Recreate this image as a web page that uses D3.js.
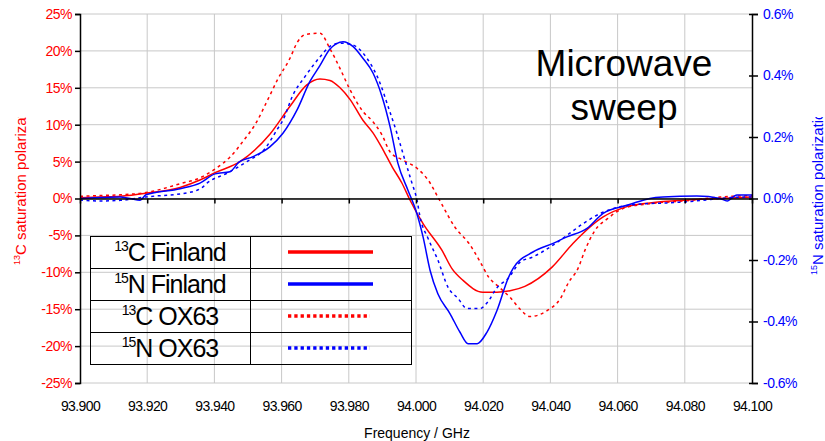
<!DOCTYPE html>
<html>
<head>
<meta charset="utf-8">
<script src="https://cdn.jsdelivr.net/npm/d3@7"></script>
<style>
  html, body { margin: 0; padding: 0; background: #fff; }
  svg { display: block; font-family: "Liberation Sans", Arial, sans-serif; }
</style>
</head>
<body>
<svg id="chart" width="825" height="441"></svg>
<script>
// ---------- DATA ----------
// Frequencies in GHz, polarization in %
const c13FinlandFreq = [93.900, 93.906, 93.912, 93.9196, 93.9298, 93.9357, 93.9402, 93.9476, 93.9565, 93.9625, 93.9675, 93.9714, 93.9744, 93.9774, 93.9804, 93.9842, 93.9872, 93.9902, 93.9929, 93.9958, 93.9982, 94.0021, 94.0077, 94.0107, 94.0140, 94.0199, 94.0241, 94.0280, 94.0324, 94.0405, 94.0467, 94.0557, 94.0628, 94.0696, 94.0807, 94.0905, 94.100];
const c13FinlandPol  = [0.1, 0.2, 0.3, 0.7, 1.5, 2.5, 3.5, 5.0, 8.7, 12.5, 15.4, 16.2, 16.0, 15.0, 13.4, 10.6, 8.9, 6.6, 4.3, 2.1, -0.2, -3.4, -7.0, -9.5, -11.1, -12.7, -12.7, -12.5, -11.9, -9.3, -6.1, -2.5, -1.1, -0.6, -0.2, 0.0, 0.2];

const c13OX63Freq = [93.900, 93.906, 93.912, 93.9196, 93.9298, 93.9357, 93.9402, 93.9446, 93.9491, 93.9521, 93.9560, 93.9589, 93.9625, 93.9646, 93.9670, 93.9714, 93.9744, 93.9774, 93.9804, 93.9842, 93.9872, 93.9899, 93.9923, 93.9961, 94.0003, 94.0042, 94.0065, 94.0077, 94.0116, 94.0158, 94.0190, 94.0217, 94.0247, 94.0280, 94.0310, 94.0339, 94.0390, 94.0429, 94.0455, 94.0482, 94.0503, 94.0533, 94.0571, 94.0619, 94.0696, 94.0807, 94.0905, 94.100];
const c13OX63Pol  = [0.3, 0.4, 0.5, 0.8, 2.0, 2.8, 4.0, 5.6, 8.1, 10.0, 13.5, 16.2, 19.0, 21.1, 22.2, 22.4, 20.3, 17.6, 14.7, 11.8, 10.4, 8.6, 6.3, 5.2, 4.1, 2.1, 0.2, -0.8, -3.9, -6.1, -8.5, -10.7, -12.0, -13.4, -15.0, -16.0, -15.2, -13.6, -11.3, -9.5, -7.0, -4.3, -2.7, -1.3, -0.7, -0.3, 0.2, 0.4];

const n15FinlandFreq = [93.900, 93.906, 93.9119, 93.9149, 93.9179, 93.9196, 93.9298, 93.9357, 93.9402, 93.9446, 93.9473, 93.9515, 93.9565, 93.9604, 93.9646, 93.9684, 93.9714, 93.9744, 93.9783, 93.9813, 93.9842, 93.9872, 93.9899, 93.9923, 93.9946, 93.9976, 94.0000, 94.0021, 94.0042, 94.0065, 94.0101, 94.0131, 94.0155, 94.0182, 94.0211, 94.0241, 94.0274, 94.0289, 94.0348, 94.0408, 94.0449, 94.0509, 94.0557, 94.0628, 94.0676, 94.0696, 94.0735, 94.0836, 94.0905, 94.0926, 94.0955, 94.100];
const n15FinlandPol  = [0.0, 0.003, 0.005, 0.0, -0.006, 0.012, 0.032, 0.05, 0.08, 0.087, 0.118, 0.136, 0.168, 0.212, 0.288, 0.38, 0.432, 0.486, 0.51, 0.494, 0.456, 0.408, 0.331, 0.233, 0.115, 0.027, -0.04, -0.125, -0.234, -0.31, -0.374, -0.435, -0.472, -0.472, -0.435, -0.364, -0.26, -0.227, -0.174, -0.146, -0.125, -0.097, -0.048, -0.022, -0.006, 0.0, 0.005, 0.008, 0.0, -0.008, 0.011, 0.011];

const n15OX63Freq = [93.900, 93.906, 93.912, 93.9196, 93.9327, 93.9366, 93.9378, 93.9437, 93.9497, 93.9551, 93.9586, 93.9604, 93.9634, 93.9670, 93.9714, 93.9744, 93.9774, 93.9810, 93.9854, 93.9893, 93.9917, 93.9943, 93.9967, 93.9988, 94.0003, 94.0012, 94.0036, 94.0065, 94.0095, 94.0125, 94.0152, 94.0190, 94.0211, 94.0241, 94.0274, 94.0310, 94.0348, 94.0399, 94.0449, 94.0497, 94.0548, 94.0607, 94.0667, 94.0756, 94.0854, 94.0935, 94.100];
const n15OX63Pol  = [-0.005, -0.008, -0.006, 0.005, 0.02, 0.038, 0.05, 0.082, 0.12, 0.163, 0.223, 0.255, 0.337, 0.397, 0.46, 0.495, 0.505, 0.5, 0.456, 0.375, 0.299, 0.213, 0.125, 0.05, -0.005, -0.06, -0.13, -0.2, -0.288, -0.325, -0.358, -0.358, -0.34, -0.29, -0.26, -0.207, -0.19, -0.158, -0.12, -0.082, -0.049, -0.027, -0.018, -0.014, -0.006, 0.003, 0.005];

const xTicks = [93.900, 93.920, 93.940, 93.960, 93.980, 94.000, 94.020, 94.040, 94.060, 94.080, 94.100];
const xTickLabels = ["93.900", "93.920", "93.940", "93.960", "93.980", "94.000", "94.020", "94.040", "94.060", "94.080", "94.100"];
const leftTicks = [-25, -20, -15, -10, -5, 0, 5, 10, 15, 20, 25];
const leftTickLabels = ["-25%", "-20%", "-15%", "-10%", "-5%", "0%", "5%", "10%", "15%", "20%", "25%"];
const rightTicks = [-0.6, -0.4, -0.2, 0.0, 0.2, 0.4, 0.6];
const rightTickLabels = ["-0.6%", "-0.4%", "-0.2%", "0.0%", "0.2%", "0.4%", "0.6%"];

const legendNames = [["13", "C", "Finland"], ["15", "N", "Finland"], ["13", "C", "OX63"], ["15", "N", "OX63"]];

// ---------- CHART ----------
const RED = "#ff0000", BLUE = "#0000ff";
const svg = d3.select("#chart");
const L = 80, R = 752, T = 14, B = 383;

const x = d3.scaleLinear().domain([93.9, 94.1]).range([L, R]);
const yL = d3.scaleLinear().domain([-25, 25]).range([B, T]);
const yR = d3.scaleLinear().domain([-0.6, 0.6]).range([B, T]);

// gridlines
const grid = svg.append("g");
grid.selectAll("line.h").data(leftTicks).join("line")
  .attr("x1", L).attr("x2", R)
  .attr("y1", d => yL(d)).attr("y2", d => yL(d))
  .attr("stroke", "#c8c8c8").attr("stroke-width", 1);
grid.selectAll("line.v").data(xTicks.slice(1, -1)).join("line")
  .attr("x1", d => x(d)).attr("x2", d => x(d))
  .attr("y1", T).attr("y2", B)
  .attr("stroke", "#c8c8c8").attr("stroke-width", 1);

// "Microwave sweep" note
const note = svg.append("text").attr("text-anchor", "middle").attr("font-size", 37).attr("fill", "#000");
note.append("tspan").attr("x", 624).attr("y", 76).text("Microwave");
note.append("tspan").attr("x", 624).attr("y", 120).text("sweep");

// legend table
const lg = svg.append("g");
const lgX0 = 90, lgX1 = 250, lgX2 = 411, lgY0 = 236, rowH = 32;
const legendStyles = [
  {color: RED, dash: null}, {color: BLUE, dash: null},
  {color: RED, dash: "3.3,3"}, {color: BLUE, dash: "3.3,3"}
];
lg.append("rect").attr("x", lgX0 + 0.5).attr("y", lgY0 + 0.5)
  .attr("width", lgX2 - lgX0).attr("height", rowH * 4)
  .attr("fill", "none").attr("stroke", "#000").attr("stroke-width", 1);
for (let i = 1; i < 4; i++) {
  lg.append("line").attr("x1", lgX0).attr("x2", lgX2 + 1)
    .attr("y1", lgY0 + rowH * i + 0.5).attr("y2", lgY0 + rowH * i + 0.5)
    .attr("stroke", "#000").attr("stroke-width", 1);
}
lg.append("line").attr("x1", lgX1 + 0.5).attr("x2", lgX1 + 0.5)
  .attr("y1", lgY0).attr("y2", lgY0 + rowH * 4)
  .attr("stroke", "#000").attr("stroke-width", 1);
legendNames.forEach((nm, i) => {
  const cy = lgY0 + rowH * i + rowH / 2;
  const t = lg.append("text").attr("x", 170).attr("y", cy + 9)
    .attr("text-anchor", "middle").attr("font-size", 25)
    .attr("letter-spacing", "-1").attr("fill", "#000");
  t.append("tspan").attr("font-size", 14).attr("dy", -10).text(nm[0]);
  t.append("tspan").attr("dy", 10).text(nm[1] + " " + nm[2]);
  const st = legendStyles[i];
  lg.append("line").attr("x1", 288).attr("x2", st.dash ? 370 : 373)
    .attr("y1", cy).attr("y2", cy)
    .attr("stroke", st.color).attr("stroke-width", 3.5)
    .attr("stroke-dasharray", st.dash);
});

// series lines
const lineL = d3.line().x(d => x(d[0])).y(d => yL(d[1])).curve(d3.curveMonotoneX);
const lineR = d3.line().x(d => x(d[0])).y(d => yR(d[1])).curve(d3.curveMonotoneX);
const series = [
  {f: c13FinlandFreq, v: c13FinlandPol, gen: lineL, color: RED, dash: null},
  {f: c13OX63Freq, v: c13OX63Pol, gen: lineL, color: RED, dash: "3,3.5"},
  {f: n15OX63Freq, v: n15OX63Pol, gen: lineR, color: BLUE, dash: "3,3.5"},
  {f: n15FinlandFreq, v: n15FinlandPol, gen: lineR, color: BLUE, dash: null}
];
series.forEach(s => {
  svg.append("path")
    .datum(s.f.map((f, i) => [f, s.v[i]]))
    .attr("d", s.gen)
    .attr("fill", "none").attr("stroke", s.color)
    .attr("stroke-width", 1.5).attr("stroke-dasharray", s.dash);
});

// axes
const axL = svg.append("g").attr("transform", `translate(${L},0)`)
  .call(d3.axisLeft(yL).tickValues(leftTicks).tickSize(5).tickPadding(3)
    .tickFormat((d, i) => leftTickLabels[i]));
axL.select(".domain").attr("stroke", "#000").attr("stroke-width", 1.5);
axL.selectAll(".tick line").attr("stroke", "#000").attr("stroke-width", 1.5);
axL.selectAll(".tick text").attr("fill", RED).attr("font-size", 14)
  .attr("font-family", "Liberation Sans, Arial, sans-serif").attr("letter-spacing", "-0.5");

const axR = svg.append("g").attr("transform", `translate(${R},0)`)
  .call(d3.axisRight(yR).tickValues(rightTicks).tickSize(6).tickPadding(5)
    .tickFormat((d, i) => rightTickLabels[i]));
axR.select(".domain").attr("stroke", "#000").attr("stroke-width", 1.5);
axR.selectAll(".tick line").attr("stroke", "#000").attr("stroke-width", 1.5).attr("x1", -3);
axR.selectAll(".tick text").attr("fill", BLUE).attr("font-size", 14)
  .attr("font-family", "Liberation Sans, Arial, sans-serif").attr("letter-spacing", "-0.5");

// x axis line at zero with ticks
const ax0 = svg.append("g").attr("transform", `translate(0,${yL(0)})`)
  .call(d3.axisBottom(x).tickValues(xTicks).tickSize(5).tickSizeOuter(0).tickFormat(""));
ax0.select(".domain").attr("stroke", "#000").attr("stroke-width", 1.5);
ax0.selectAll(".tick line").attr("stroke", "#000").attr("stroke-width", 1.5);

// x tick labels at bottom
const axB = svg.append("g").attr("transform", `translate(0,${B})`)
  .call(d3.axisBottom(x).tickValues(xTicks).tickSize(0).tickPadding(18)
    .tickFormat((d, i) => xTickLabels[i]));
axB.select(".domain").remove();
axB.selectAll(".tick text").attr("fill", "#000").attr("font-size", 14)
  .attr("font-family", "Liberation Sans, Arial, sans-serif").attr("letter-spacing", "-0.6");

// axis titles
svg.append("text").attr("x", 417).attr("y", 437.5).attr("text-anchor", "middle")
  .attr("font-size", 14).attr("fill", "#000").text("Frequency / GHz");

const defs = svg.append("defs");
defs.append("clipPath").attr("id", "ytclip").append("rect")
  .attr("x", 0).attr("y", 117).attr("width", 825).attr("height", 324);

const gL = svg.append("g").attr("clip-path", "url(#ytclip)");
const ytL = gL.append("text")
  .attr("transform", "translate(26,265) rotate(-90)")
  .attr("font-size", 15).attr("fill", RED);
ytL.append("tspan").attr("font-size", 9).attr("dy", -6).text("13");
ytL.append("tspan").attr("dy", 6).text("C saturation polarization");

const gR = svg.append("g").attr("clip-path", "url(#ytclip)");
const ytR = gR.append("text")
  .attr("transform", "translate(823,275) rotate(-90)")
  .attr("font-size", 15).attr("fill", BLUE);
ytR.append("tspan").attr("font-size", 9).attr("dy", -6).text("15");
ytR.append("tspan").attr("dy", 6).text("N saturation polarization");
</script>
</body>
</html>
